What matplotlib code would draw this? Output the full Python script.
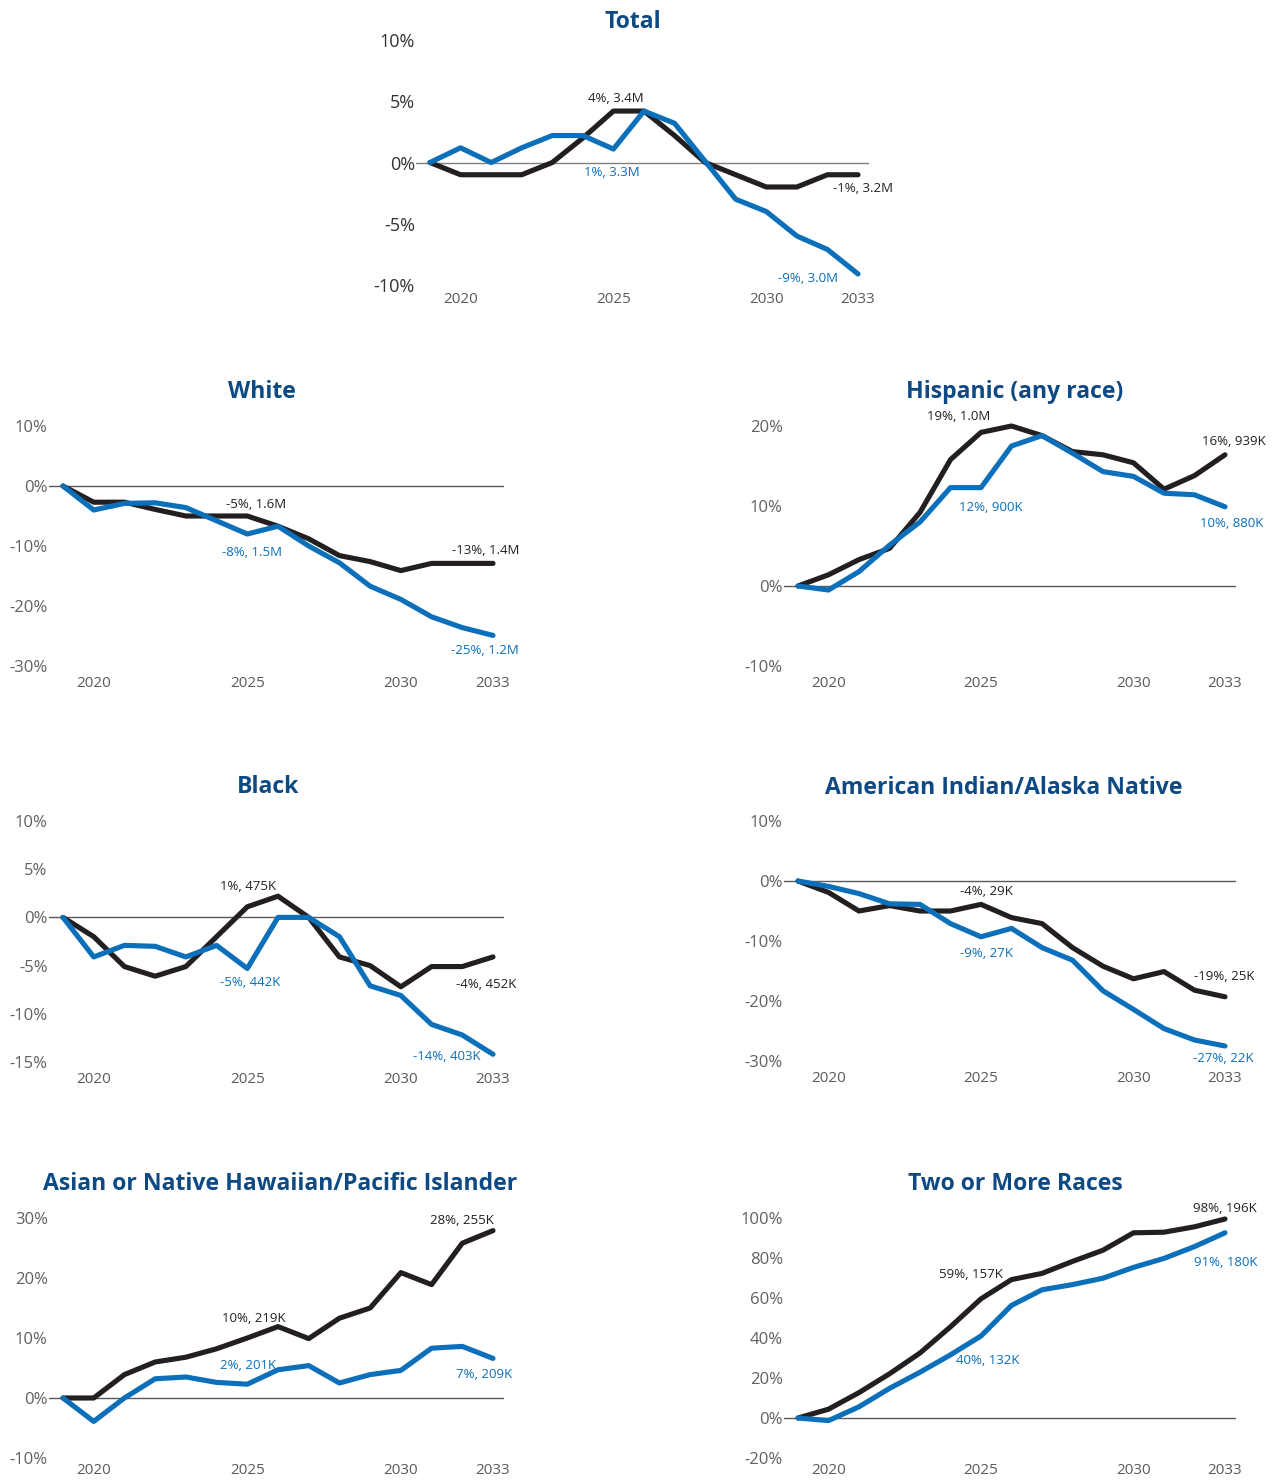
import matplotlib
matplotlib.use('Agg')
import matplotlib.pyplot as plt

plt.rcParams['font.family'] = ['Open Sans', 'DejaVu Sans']

# ---------------- data ----------------
years = list(range(2019, 2034))
x_ticks = [2020, 2025, 2030, 2033]

titles = ["Total", "White", "Hispanic (any race)", "Black",
          "American Indian/Alaska Native",
          "Asian or Native Hawaiian/Pacific Islander", "Two or More Races"]

total_black = [0, -1, -1, -1, 0, 2.0, 4.2, 4.2, 2.2, 0, -1.0, -2.0, -2.0, -1.0, -1.0]
total_blue = [0, 1.2, 0, 1.2, 2.2, 2.2, 1.1, 4.2, 3.2, 0.1, -3.0, -4.0, -6.0, -7.1, -9.1]

white_black = [0, -2.7, -2.7, -3.9, -5.0, -5.0, -5.0, -6.7, -8.8, -11.6, -12.6, -14.1, -12.9, -12.9, -12.9]
white_blue = [0, -4.0, -2.9, -2.8, -3.6, -5.8, -8.0, -6.7, -10.0, -12.8, -16.7, -18.9, -21.8, -23.6, -24.9]

hisp_black = [0, 1.4, 3.3, 4.7, 9.2, 15.8, 19.2, 20.0, 18.8, 16.8, 16.4, 15.4, 12.1, 13.8, 16.4]
hisp_blue = [0, -0.5, 1.8, 5.1, 8.0, 12.3, 12.3, 17.5, 18.8, 16.6, 14.3, 13.7, 11.6, 11.4, 9.9]

black_black = [0, -2.0, -5.1, -6.1, -5.1, -2.0, 1.1, 2.2, 0, -4.1, -5.0, -7.2, -5.1, -5.1, -4.1]
black_blue = [0, -4.1, -2.9, -3.0, -4.1, -2.9, -5.3, 0, 0, -2.0, -7.1, -8.1, -11.1, -12.2, -14.2]

aian_black = [0, -1.9, -5.0, -4.1, -5.0, -5.0, -3.9, -6.1, -7.1, -11.1, -14.2, -16.3, -15.1, -18.2, -19.3]
aian_blue = [0, -0.9, -2.1, -3.8, -3.9, -7.1, -9.3, -7.9, -11.1, -13.2, -18.3, -21.4, -24.6, -26.5, -27.5]

asian_black = [0, 0, 3.9, 6.0, 6.8, 8.2, 10.0, 11.9, 9.9, 13.3, 15.0, 20.9, 18.9, 25.8, 27.9]
asian_blue = [0, -3.9, 0, 3.2, 3.5, 2.6, 2.3, 4.7, 5.4, 2.5, 3.9, 4.6, 8.3, 8.6, 6.6]

two_black = [0, 4.4, 12.7, 22.1, 32.5, 45.6, 59.6, 69.2, 72.3, 78.3, 83.9, 92.6, 92.9, 95.6, 99.5]
two_blue = [0, -1.3, 5.6, 14.8, 22.9, 31.6, 41.0, 56.3, 64.1, 66.7, 69.9, 75.3, 79.8, 85.7, 92.6]

total_yticks = [-10, -5, 0, 5, 10]
white_yticks = [-30, -20, -10, 0, 10]
hisp_yticks = [-10, 0, 10, 20]
black_yticks = [-15, -10, -5, 0, 5, 10]
aian_yticks = [-30, -20, -10, 0, 10]
asian_yticks = [-10, 0, 10, 20, 30]
two_yticks = [-20, 0, 20, 40, 60, 80, 100]

# annotation labels: (2025 black, 2025 blue, 2033 black, 2033 blue)
total_labels = ["4%, 3.4M", "1%, 3.3M", "-1%, 3.2M", "-9%, 3.0M"]
white_labels = ["-5%, 1.6M", "-8%, 1.5M", "-13%, 1.4M", "-25%, 1.2M"]
hisp_labels = ["19%, 1.0M", "12%, 900K", "16%, 939K", "10%, 880K"]
black_labels = ["1%, 475K", "-5%, 442K", "-4%, 452K", "-14%, 403K"]
aian_labels = ["-4%, 29K", "-9%, 27K", "-19%, 25K", "-27%, 22K"]
asian_labels = ["10%, 219K", "2%, 201K", "28%, 255K", "7%, 209K"]
two_labels = ["59%, 157K", "40%, 132K", "98%, 196K", "91%, 180K"]

# ---------------- style ----------------
W, H = 1275, 1481
BLACK = '#231f20'
BLUE = '#0b6fba'
TITLE = '#0d4a84'

fig = plt.figure(figsize=(W / 100, H / 100), dpi=100)
fig.patch.set_facecolor('white')

XL, XR = 2018.55, 2033.35


def panel(x19, x33, ytop, ybot, yticks, black, blue, labels, offsets,
          title, tx, ty, total=False, xpad=7.5):
    ppy = (x33 - x19) / 14.0
    left = x19 + (XL - 2019) * ppy
    right = x19 + (XR - 2019) * ppy
    ax = fig.add_axes([left / W, 1 - ybot / H, (right - left) / W, (ybot - ytop) / H])
    ax.set_xlim(XL, XR)
    ax.set_ylim(min(yticks), max(yticks))
    for s in ax.spines.values():
        s.set_visible(False)
    ax.axhline(0, color='#808080' if total else '#5a5a5a', lw=1.0, zorder=1)
    ax.plot(years, black, color=BLACK, lw=3.7, solid_capstyle='round',
            solid_joinstyle='round', zorder=3, clip_on=False)
    ax.plot(years, blue, color=BLUE, lw=3.7, solid_capstyle='round',
            solid_joinstyle='round', zorder=4, clip_on=False)
    ax.set_yticks(yticks)
    ax.set_yticklabels([f"{v}%" for v in yticks])
    ax.set_xticks(x_ticks)
    ax.set_xticklabels([str(v) for v in x_ticks])
    ax.tick_params(axis='y', length=0, pad=1,
                   labelsize=13 if total else 12,
                   labelcolor='#333333' if total else '#606060')
    ax.tick_params(axis='x', length=0, pad=xpad,
                   labelsize=11, labelcolor='#5a5a5a')
    ax.patch.set_visible(False)
    i25 = years.index(2025)
    i33 = years.index(2033)
    pts = [(2025, black[i25], BLACK), (2025, blue[i25], BLUE),
           (2033, black[i33], BLACK), (2033, blue[i33], BLUE)]
    for (xv, yv, c), lab, off in zip(pts, labels, offsets):
        ax.annotate(lab, xy=(xv, yv), xytext=off, textcoords='offset pixels',
                    ha='center', va='center', fontsize=9.5, color=c, zorder=5)
    fig.text(tx / W, 1 - ty / H, title, ha='center', va='center',
             fontsize=16.6, fontweight='bold', color=TITLE)
    return ax


LX19, LX33 = 63, 493
RX19, RX33 = 798, 1225

panel(430, 858, 40, 285, total_yticks, total_black, total_blue, total_labels,
      [(2, 13), (-2, -23), (5, -14), (-50, -5)], titles[0], 633, 22,
      total=True, xpad=5)

panel(LX19, LX33, 426, 666, white_yticks, white_black, white_blue, white_labels,
      [(9, 12), (5, -18), (-7, 13), (-8, -15)], titles[1], 262, 392)
panel(RX19, RX33, 426, 666, hisp_yticks, hisp_black, hisp_blue, hisp_labels,
      [(-22, 16), (10, -20), (9, 13), (7, -17)], titles[2], 1015, 392)

panel(LX19, LX33, 821, 1062, black_yticks, black_black, black_blue, black_labels,
      [(1, 20), (3, -14), (-7, -28), (-46, -2)], titles[3], 268, 787)
panel(RX19, RX33, 821, 1061, aian_yticks, aian_black, aian_blue, aian_labels,
      [(5, 13), (5, -17), (-1, 20), (-2, -13)], titles[4], 1004, 788)

panel(LX19, LX33, 1218, 1458, asian_yticks, asian_black, asian_blue, asian_labels,
      [(7, 20), (1, 19), (-31, 10), (-9, -16)], titles[5], 280, 1184, xpad=3.5)
panel(RX19, RX33, 1218, 1458, two_yticks, two_black, two_blue, two_labels,
      [(-10, 24), (7, -24), (0, 11), (1, -30)], titles[6], 1015, 1184, xpad=3.5)

fig.savefig('out.png', dpi=100, facecolor='white')
